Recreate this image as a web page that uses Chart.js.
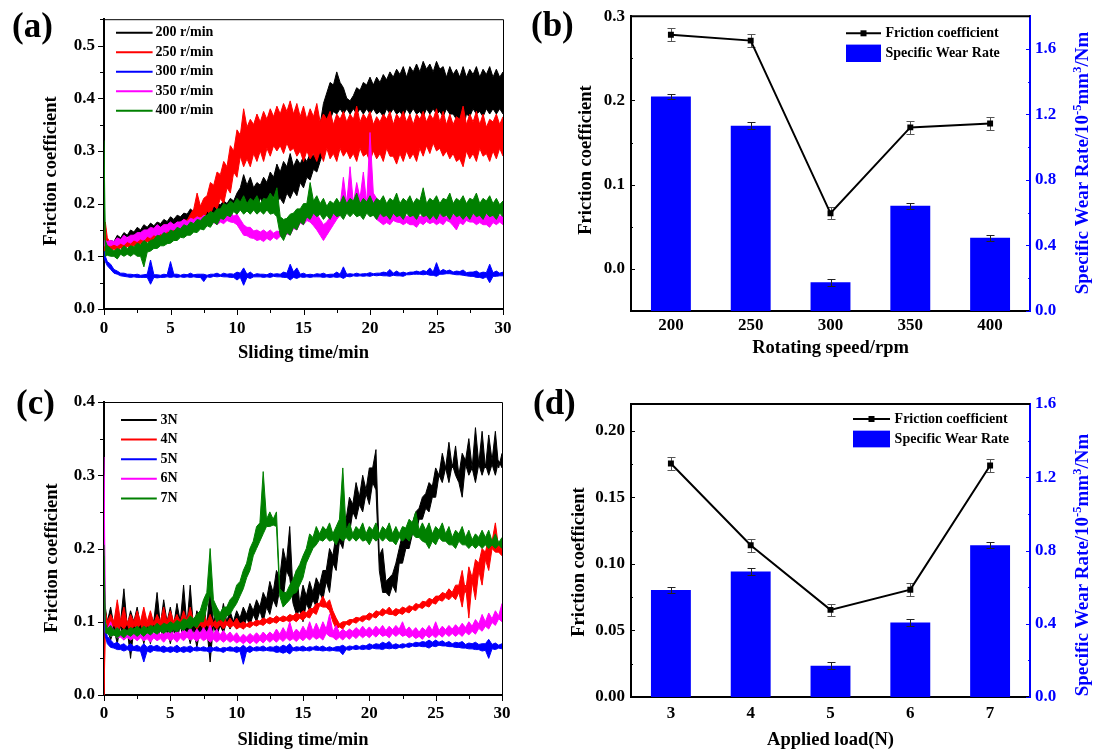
<!DOCTYPE html>
<html>
<head>
<meta charset="utf-8">
<script src="https://cdn.jsdelivr.net/npm/chart.js@4.4.1/dist/chart.umd.min.js"></script>
<style>
  body { margin: 0; background: #fff; }
  #page { position: relative; width: 1097px; height: 755px; overflow: hidden; background: #fff; }
  canvas { position: absolute; }
  .tag { position: absolute; font: bold 35px "Liberation Serif", "Times New Roman", serif; line-height: 35px; color: #000; }
</style>
</head>
<body>
<div id="page">
  <canvas id="chartA" width="548" height="377" style="left:0;top:0;width:548px;height:377px"></canvas>
  <canvas id="chartB" width="549" height="377" style="left:548px;top:0;width:549px;height:377px"></canvas>
  <canvas id="chartC" width="548" height="378" style="left:0;top:377px;width:548px;height:378px"></canvas>
  <canvas id="chartD" width="549" height="378" style="left:548px;top:377px;width:549px;height:378px"></canvas>
  <div class="tag" style="left:12px;top:8px">(a)</div>
  <div class="tag" style="left:531px;top:7px">(b)</div>
  <div class="tag" style="left:16px;top:385px">(c)</div>
  <div class="tag" style="left:533px;top:385px">(d)</div>
</div>
<script>
// tijdas: t = 0, 0.1, 0.25, 0.5 ... 30 min
const timesMin = [0, 0.1];
for (let k = 1; k <= 120; k++) timesMin.push(k / 4);

// (a) rotating speed: upper / lower edge of the noisy band
const speedNames = ["200 r/min", "250 r/min", "300 r/min", "350 r/min", "400 r/min"];
const a200Hi = [0.15, 0.135,
  0.122, 0.13, 0.128, 0.14, 0.135, 0.145, 0.14, 0.15, 0.146, 0.155, 0.15, 0.16, 0.155, 0.163, 0.158, 0.165, 0.162, 0.17, 0.166, 0.175,
  0.17, 0.178, 0.175, 0.182, 0.18, 0.19, 0.184, 0.19, 0.186, 0.195, 0.19, 0.2, 0.193, 0.2, 0.198, 0.205, 0.2, 0.21, 0.205, 0.22,
  0.23, 0.255, 0.235, 0.25, 0.23, 0.24, 0.235, 0.25, 0.24, 0.26, 0.25, 0.275, 0.26, 0.28, 0.27, 0.295, 0.27, 0.285, 0.275, 0.29,
  0.28, 0.295, 0.29, 0.31, 0.35, 0.39, 0.41, 0.43, 0.425, 0.45, 0.43, 0.42, 0.4, 0.395, 0.405, 0.42, 0.415, 0.43, 0.425, 0.44,
  0.425, 0.44, 0.43, 0.445, 0.435, 0.45, 0.44, 0.455, 0.445, 0.46, 0.44, 0.46, 0.45, 0.465, 0.45, 0.47, 0.455, 0.465, 0.45, 0.47,
  0.455, 0.46, 0.44, 0.46, 0.445, 0.455, 0.44, 0.46, 0.44, 0.455, 0.445, 0.46, 0.44, 0.455, 0.445, 0.46, 0.44, 0.455, 0.44, 0.45];
const a200Lo = [0.13, 0.125,
  0.123, 0.12, 0.128, 0.125, 0.133, 0.13, 0.138, 0.135, 0.142, 0.138, 0.144, 0.14, 0.149, 0.145, 0.152, 0.148, 0.156, 0.152, 0.159, 0.155,
  0.163, 0.16, 0.167, 0.163, 0.171, 0.168, 0.174, 0.17, 0.176, 0.172, 0.179, 0.175, 0.182, 0.178, 0.185, 0.18, 0.186, 0.18, 0.188, 0.18,
  0.2, 0.19, 0.198, 0.19, 0.205, 0.195, 0.21, 0.2, 0.21, 0.2, 0.215, 0.205, 0.21, 0.2, 0.22, 0.21, 0.225, 0.215, 0.24, 0.23,
  0.25, 0.245, 0.265, 0.26, 0.28, 0.3, 0.33, 0.36, 0.375, 0.37, 0.38, 0.37, 0.38, 0.37, 0.38, 0.37, 0.38, 0.37, 0.38, 0.37,
  0.38, 0.37, 0.375, 0.365, 0.38, 0.37, 0.38, 0.37, 0.375, 0.365, 0.38, 0.37, 0.38, 0.37, 0.375, 0.365, 0.38, 0.37, 0.38, 0.37,
  0.375, 0.365, 0.38, 0.37, 0.37, 0.36, 0.36, 0.34, 0.37, 0.365, 0.38, 0.37, 0.375, 0.365, 0.38, 0.37, 0.38, 0.37, 0.38, 0.37];
const a250Hi = [0.125, 0.165,
  0.135, 0.125, 0.122, 0.13, 0.126, 0.135, 0.128, 0.13, 0.132, 0.14, 0.135, 0.14, 0.142, 0.15, 0.145, 0.15, 0.152, 0.16, 0.155, 0.16,
  0.158, 0.165, 0.162, 0.17, 0.168, 0.18, 0.19, 0.22, 0.195, 0.21, 0.215, 0.24, 0.235, 0.26, 0.255, 0.28, 0.27, 0.31, 0.3, 0.34,
  0.33, 0.38, 0.345, 0.36, 0.35, 0.37, 0.355, 0.375, 0.36, 0.38, 0.365, 0.385, 0.37, 0.39, 0.375, 0.395, 0.37, 0.39, 0.365, 0.385,
  0.36, 0.38, 0.365, 0.39, 0.355, 0.37, 0.36, 0.375, 0.35, 0.37, 0.36, 0.375, 0.355, 0.37, 0.36, 0.385, 0.355, 0.37, 0.36, 0.375,
  0.35, 0.365, 0.355, 0.37, 0.36, 0.375, 0.35, 0.37, 0.36, 0.375, 0.355, 0.37, 0.35, 0.37, 0.36, 0.375, 0.355, 0.37, 0.36, 0.38,
  0.355, 0.375, 0.35, 0.37, 0.35, 0.365, 0.36, 0.385, 0.35, 0.37, 0.355, 0.375, 0.35, 0.37, 0.345, 0.36, 0.355, 0.37, 0.35, 0.365];
const a250Lo = [0.11, 0.11,
  0.113, 0.11, 0.114, 0.11, 0.116, 0.112, 0.119, 0.115, 0.121, 0.118, 0.124, 0.12, 0.128, 0.125, 0.131, 0.128, 0.134, 0.13, 0.138, 0.135,
  0.143, 0.14, 0.149, 0.145, 0.155, 0.15, 0.166, 0.16, 0.175, 0.17, 0.186, 0.18, 0.196, 0.19, 0.21, 0.2, 0.23, 0.22, 0.26, 0.25,
  0.29, 0.27, 0.285, 0.27, 0.295, 0.28, 0.3, 0.28, 0.305, 0.29, 0.31, 0.3, 0.31, 0.295, 0.315, 0.3, 0.305, 0.29, 0.3, 0.28,
  0.3, 0.285, 0.295, 0.28, 0.3, 0.28, 0.305, 0.285, 0.295, 0.28, 0.305, 0.29, 0.3, 0.285, 0.295, 0.28, 0.305, 0.29, 0.295, 0.28,
  0.3, 0.285, 0.295, 0.28, 0.305, 0.29, 0.29, 0.275, 0.295, 0.28, 0.3, 0.285, 0.295, 0.28, 0.305, 0.29, 0.31, 0.295, 0.315, 0.3,
  0.305, 0.29, 0.3, 0.285, 0.295, 0.28, 0.285, 0.27, 0.3, 0.285, 0.295, 0.28, 0.305, 0.29, 0.295, 0.28, 0.3, 0.285, 0.305, 0.29];
const a300Hi = [0.11, 0.1,
  0.09, 0.085, 0.075, 0.072, 0.068, 0.068, 0.066, 0.066, 0.065, 0.066, 0.064, 0.065, 0.066, 0.093, 0.065, 0.065, 0.064, 0.066, 0.065, 0.09,
  0.066, 0.066, 0.064, 0.066, 0.065, 0.068, 0.065, 0.066, 0.066, 0.066, 0.064, 0.066, 0.066, 0.068, 0.065, 0.068, 0.066, 0.067, 0.066, 0.07,
  0.068, 0.078, 0.066, 0.07, 0.065, 0.067, 0.066, 0.066, 0.065, 0.068, 0.066, 0.067, 0.066, 0.07, 0.068, 0.085, 0.07, 0.078, 0.066, 0.068,
  0.065, 0.066, 0.065, 0.067, 0.066, 0.068, 0.065, 0.066, 0.066, 0.07, 0.066, 0.08, 0.066, 0.067, 0.066, 0.068, 0.066, 0.067, 0.067, 0.069,
  0.067, 0.068, 0.068, 0.07, 0.069, 0.075, 0.068, 0.072, 0.068, 0.07, 0.068, 0.07, 0.07, 0.072, 0.07, 0.073, 0.071, 0.078, 0.07, 0.088,
  0.071, 0.075, 0.072, 0.074, 0.07, 0.072, 0.071, 0.074, 0.069, 0.07, 0.07, 0.072, 0.068, 0.07, 0.069, 0.085, 0.069, 0.072, 0.068, 0.07];
const a300Lo = [0.1, 0.09,
  0.082, 0.075, 0.068, 0.066, 0.063, 0.062, 0.061, 0.06, 0.061, 0.06, 0.06, 0.06, 0.06, 0.047, 0.06, 0.059, 0.06, 0.06, 0.061, 0.06,
  0.061, 0.06, 0.061, 0.06, 0.061, 0.06, 0.061, 0.06, 0.06, 0.052, 0.061, 0.06, 0.062, 0.061, 0.062, 0.061, 0.061, 0.06, 0.06, 0.055,
  0.06, 0.045, 0.06, 0.058, 0.061, 0.061, 0.061, 0.06, 0.061, 0.06, 0.062, 0.061, 0.061, 0.06, 0.06, 0.055, 0.06, 0.058, 0.061, 0.06,
  0.061, 0.06, 0.061, 0.061, 0.061, 0.06, 0.061, 0.06, 0.061, 0.06, 0.061, 0.058, 0.062, 0.061, 0.063, 0.062, 0.063, 0.062, 0.063, 0.062,
  0.064, 0.063, 0.064, 0.063, 0.063, 0.062, 0.064, 0.063, 0.063, 0.062, 0.065, 0.065, 0.066, 0.066, 0.066, 0.065, 0.066, 0.064, 0.064, 0.062,
  0.066, 0.066, 0.067, 0.067, 0.066, 0.065, 0.065, 0.064, 0.063, 0.062, 0.062, 0.06, 0.06, 0.058, 0.061, 0.05, 0.062, 0.062, 0.063, 0.063];
const a350Hi = [0.13, 0.13,
  0.128, 0.13, 0.128, 0.135, 0.132, 0.14, 0.135, 0.14, 0.14, 0.145, 0.145, 0.15, 0.15, 0.155, 0.153, 0.16, 0.155, 0.16, 0.16, 0.165,
  0.16, 0.165, 0.165, 0.17, 0.166, 0.172, 0.17, 0.175, 0.172, 0.178, 0.175, 0.18, 0.174, 0.18, 0.176, 0.18, 0.178, 0.185, 0.176, 0.18,
  0.17, 0.16, 0.155, 0.155, 0.148, 0.15, 0.146, 0.15, 0.145, 0.15, 0.144, 0.148, 0.146, 0.15, 0.155, 0.16, 0.165, 0.17, 0.18, 0.19,
  0.182, 0.19, 0.185, 0.18, 0.17, 0.16, 0.165, 0.175, 0.18, 0.19, 0.195, 0.25, 0.2, 0.27, 0.2, 0.24, 0.21, 0.26, 0.2, 0.335,
  0.22, 0.21, 0.185, 0.19, 0.178, 0.185, 0.182, 0.19, 0.178, 0.185, 0.175, 0.18, 0.178, 0.185, 0.174, 0.18, 0.178, 0.185, 0.175, 0.18,
  0.178, 0.185, 0.174, 0.18, 0.178, 0.185, 0.175, 0.18, 0.18, 0.19, 0.178, 0.185, 0.18, 0.2, 0.178, 0.185, 0.18, 0.19, 0.175, 0.18];
const a350Lo = [0.12, 0.12,
  0.122, 0.12, 0.123, 0.12, 0.125, 0.122, 0.128, 0.125, 0.131, 0.128, 0.133, 0.13, 0.138, 0.135, 0.141, 0.138, 0.143, 0.14, 0.148, 0.145,
  0.151, 0.148, 0.153, 0.15, 0.156, 0.152, 0.158, 0.155, 0.161, 0.158, 0.163, 0.16, 0.164, 0.16, 0.165, 0.162, 0.168, 0.165, 0.164, 0.16,
  0.15, 0.14, 0.139, 0.135, 0.134, 0.13, 0.132, 0.128, 0.134, 0.13, 0.136, 0.132, 0.138, 0.135, 0.143, 0.14, 0.153, 0.15, 0.163, 0.16,
  0.168, 0.165, 0.158, 0.15, 0.14, 0.13, 0.14, 0.15, 0.16, 0.17, 0.178, 0.18, 0.184, 0.18, 0.186, 0.19, 0.194, 0.19, 0.195, 0.19,
  0.18, 0.17, 0.165, 0.16, 0.164, 0.16, 0.168, 0.165, 0.164, 0.16, 0.164, 0.16, 0.16, 0.155, 0.164, 0.16, 0.166, 0.162, 0.165, 0.16,
  0.164, 0.16, 0.168, 0.165, 0.158, 0.15, 0.164, 0.16, 0.168, 0.165, 0.165, 0.16, 0.164, 0.16, 0.16, 0.155, 0.164, 0.16, 0.165, 0.16];
const a400Hi = [0.32, 0.13,
  0.12, 0.115, 0.11, 0.115, 0.112, 0.12, 0.115, 0.12, 0.118, 0.125, 0.122, 0.13, 0.125, 0.13, 0.132, 0.14, 0.138, 0.145, 0.142, 0.15,
  0.147, 0.155, 0.152, 0.16, 0.157, 0.165, 0.162, 0.17, 0.168, 0.175, 0.178, 0.185, 0.182, 0.19, 0.19, 0.2, 0.197, 0.205, 0.2, 0.21,
  0.203, 0.215, 0.2, 0.21, 0.205, 0.215, 0.2, 0.21, 0.208, 0.22, 0.21, 0.23, 0.175, 0.17, 0.172, 0.18, 0.182, 0.19, 0.19, 0.2,
  0.2, 0.24, 0.205, 0.215, 0.2, 0.21, 0.195, 0.205, 0.2, 0.21, 0.2, 0.215, 0.2, 0.21, 0.205, 0.22, 0.2, 0.21, 0.203, 0.215,
  0.2, 0.21, 0.205, 0.215, 0.2, 0.21, 0.205, 0.22, 0.2, 0.21, 0.204, 0.215, 0.2, 0.21, 0.205, 0.23, 0.2, 0.21, 0.205, 0.215,
  0.2, 0.21, 0.207, 0.22, 0.2, 0.21, 0.205, 0.215, 0.2, 0.21, 0.207, 0.22, 0.2, 0.21, 0.205, 0.215, 0.2, 0.21, 0.198, 0.205];
const a400Lo = [0.25, 0.1,
  0.102, 0.1, 0.1, 0.095, 0.104, 0.1, 0.104, 0.1, 0.105, 0.1, 0.1, 0.08, 0.108, 0.11, 0.115, 0.115, 0.12, 0.12, 0.124, 0.125,
  0.13, 0.13, 0.136, 0.135, 0.14, 0.14, 0.146, 0.145, 0.152, 0.15, 0.158, 0.155, 0.165, 0.16, 0.172, 0.17, 0.178, 0.175, 0.185, 0.18,
  0.188, 0.18, 0.186, 0.18, 0.188, 0.18, 0.186, 0.18, 0.188, 0.18, 0.182, 0.175, 0.14, 0.13, 0.145, 0.14, 0.155, 0.15, 0.165, 0.16,
  0.175, 0.17, 0.182, 0.175, 0.18, 0.17, 0.178, 0.17, 0.182, 0.175, 0.178, 0.17, 0.182, 0.175, 0.182, 0.175, 0.178, 0.17, 0.182, 0.175,
  0.178, 0.17, 0.182, 0.175, 0.178, 0.17, 0.182, 0.175, 0.178, 0.17, 0.182, 0.175, 0.178, 0.17, 0.182, 0.175, 0.178, 0.17, 0.178, 0.17,
  0.182, 0.175, 0.178, 0.17, 0.182, 0.175, 0.178, 0.17, 0.178, 0.17, 0.182, 0.175, 0.178, 0.17, 0.182, 0.175, 0.178, 0.17, 0.182, 0.175];

// (c) applied load
const loadNames = ["3N", "4N", "5N", "6N", "7N"];
const c3Hi = [0.13, 0.12,
  0.1, 0.12, 0.095, 0.115, 0.1, 0.145, 0.095, 0.115, 0.1, 0.12, 0.095, 0.115, 0.09, 0.11, 0.1, 0.14, 0.095, 0.13, 0.1, 0.12,
  0.095, 0.125, 0.1, 0.15, 0.095, 0.15, 0.09, 0.115, 0.1, 0.125, 0.095, 0.145, 0.1, 0.115, 0.1, 0.125, 0.1, 0.115, 0.1, 0.115,
  0.105, 0.12, 0.11, 0.125, 0.115, 0.13, 0.12, 0.14, 0.13, 0.155, 0.14, 0.17, 0.16, 0.2, 0.18, 0.23, 0.14, 0.17, 0.125, 0.15,
  0.135, 0.155, 0.14, 0.16, 0.15, 0.17, 0.17, 0.2, 0.19, 0.22, 0.22, 0.25, 0.24, 0.27, 0.26, 0.29, 0.27, 0.3, 0.28, 0.31,
  0.31, 0.335, 0.19, 0.2, 0.155, 0.16, 0.165, 0.18, 0.2, 0.22, 0.215, 0.23, 0.235, 0.25, 0.255, 0.27, 0.275, 0.29, 0.285, 0.31,
  0.3, 0.33, 0.31, 0.345, 0.31, 0.34, 0.3, 0.33, 0.32, 0.35, 0.31, 0.365, 0.315, 0.36, 0.31, 0.355, 0.32, 0.36, 0.31, 0.33];
const c3Lo = [0.09, 0.09,
  0.09, 0.075, 0.09, 0.07, 0.095, 0.075, 0.09, 0.05, 0.09, 0.075, 0.09, 0.07, 0.09, 0.07, 0.095, 0.075, 0.09, 0.075, 0.09, 0.07,
  0.09, 0.075, 0.095, 0.075, 0.09, 0.07, 0.09, 0.065, 0.09, 0.075, 0.09, 0.045, 0.095, 0.08, 0.095, 0.085, 0.1, 0.09, 0.1, 0.09,
  0.1, 0.09, 0.105, 0.095, 0.11, 0.1, 0.115, 0.1, 0.12, 0.11, 0.13, 0.12, 0.145, 0.13, 0.17, 0.16, 0.125, 0.11, 0.115, 0.1,
  0.125, 0.115, 0.13, 0.12, 0.14, 0.13, 0.155, 0.14, 0.18, 0.17, 0.21, 0.2, 0.23, 0.22, 0.25, 0.24, 0.26, 0.25, 0.275, 0.26,
  0.29, 0.28, 0.17, 0.14, 0.14, 0.135, 0.15, 0.14, 0.18, 0.18, 0.2, 0.2, 0.22, 0.22, 0.24, 0.24, 0.255, 0.25, 0.27, 0.27,
  0.3, 0.29, 0.31, 0.29, 0.315, 0.3, 0.29, 0.27, 0.315, 0.3, 0.31, 0.29, 0.315, 0.3, 0.315, 0.3, 0.315, 0.3, 0.32, 0.31];
const c4Hi = [0.0, 0.115,
  0.1, 0.11, 0.1, 0.13, 0.1, 0.12, 0.098, 0.11, 0.1, 0.115, 0.1, 0.12, 0.1, 0.115, 0.098, 0.11, 0.1, 0.12, 0.1, 0.115,
  0.1, 0.11, 0.1, 0.115, 0.102, 0.12, 0.1, 0.11, 0.1, 0.115, 0.098, 0.11, 0.098, 0.105, 0.1, 0.11, 0.098, 0.105, 0.098, 0.105,
  0.097, 0.1, 0.097, 0.1, 0.099, 0.102, 0.101, 0.105, 0.103, 0.106, 0.104, 0.108, 0.105, 0.108, 0.106, 0.11, 0.108, 0.112, 0.11, 0.115,
  0.112, 0.118, 0.118, 0.125, 0.125, 0.135, 0.125, 0.13, 0.115, 0.105, 0.097, 0.1, 0.1, 0.103, 0.103, 0.106, 0.105, 0.108, 0.108, 0.112,
  0.11, 0.115, 0.113, 0.118, 0.115, 0.12, 0.114, 0.118, 0.116, 0.12, 0.118, 0.122, 0.12, 0.125, 0.123, 0.128, 0.127, 0.132, 0.13, 0.135,
  0.135, 0.14, 0.138, 0.145, 0.14, 0.15, 0.15, 0.17, 0.14, 0.175, 0.16, 0.185, 0.18, 0.2, 0.195, 0.215, 0.21, 0.235, 0.2, 0.21];
const c4Lo = [0.0, 0.09,
  0.095, 0.085, 0.097, 0.085, 0.095, 0.09, 0.097, 0.085, 0.095, 0.09, 0.097, 0.085, 0.095, 0.09, 0.097, 0.085, 0.096, 0.09, 0.097, 0.085,
  0.096, 0.09, 0.097, 0.09, 0.096, 0.09, 0.097, 0.09, 0.096, 0.09, 0.096, 0.09, 0.095, 0.09, 0.096, 0.09, 0.096, 0.092, 0.095, 0.09,
  0.093, 0.09, 0.094, 0.092, 0.096, 0.094, 0.097, 0.095, 0.099, 0.097, 0.1, 0.098, 0.102, 0.1, 0.102, 0.1, 0.103, 0.1, 0.105, 0.102,
  0.107, 0.105, 0.113, 0.11, 0.122, 0.12, 0.12, 0.115, 0.1, 0.09, 0.093, 0.09, 0.097, 0.095, 0.1, 0.098, 0.102, 0.1, 0.104, 0.102,
  0.107, 0.105, 0.11, 0.108, 0.112, 0.11, 0.11, 0.108, 0.112, 0.11, 0.114, 0.112, 0.117, 0.115, 0.12, 0.118, 0.122, 0.12, 0.126, 0.124,
  0.13, 0.128, 0.133, 0.13, 0.135, 0.13, 0.14, 0.12, 0.15, 0.105, 0.155, 0.13, 0.17, 0.15, 0.185, 0.17, 0.2, 0.195, 0.195, 0.19];
const c5Hi = [0.11, 0.09,
  0.08, 0.075, 0.07, 0.072, 0.068, 0.07, 0.066, 0.07, 0.066, 0.068, 0.065, 0.07, 0.065, 0.068, 0.066, 0.068, 0.065, 0.067, 0.064, 0.066,
  0.065, 0.068, 0.064, 0.066, 0.065, 0.067, 0.064, 0.066, 0.064, 0.066, 0.064, 0.066, 0.064, 0.066, 0.063, 0.065, 0.064, 0.066, 0.064, 0.066,
  0.064, 0.068, 0.064, 0.067, 0.064, 0.066, 0.065, 0.067, 0.064, 0.066, 0.065, 0.067, 0.065, 0.068, 0.066, 0.07, 0.064, 0.066, 0.065, 0.067,
  0.064, 0.066, 0.065, 0.067, 0.065, 0.067, 0.064, 0.066, 0.064, 0.066, 0.066, 0.068, 0.065, 0.067, 0.066, 0.068, 0.066, 0.068, 0.067, 0.07,
  0.068, 0.07, 0.069, 0.072, 0.07, 0.073, 0.068, 0.07, 0.068, 0.07, 0.069, 0.071, 0.07, 0.072, 0.071, 0.073, 0.072, 0.075, 0.072, 0.075,
  0.072, 0.074, 0.071, 0.073, 0.07, 0.072, 0.071, 0.073, 0.069, 0.071, 0.07, 0.072, 0.069, 0.07, 0.07, 0.076, 0.069, 0.071, 0.068, 0.07];
const c5Lo = [0.1, 0.08,
  0.07, 0.065, 0.064, 0.062, 0.062, 0.06, 0.062, 0.06, 0.061, 0.06, 0.06, 0.045, 0.06, 0.058, 0.061, 0.06, 0.06, 0.058, 0.06, 0.058,
  0.06, 0.058, 0.06, 0.058, 0.06, 0.058, 0.061, 0.06, 0.061, 0.06, 0.06, 0.058, 0.061, 0.06, 0.06, 0.058, 0.061, 0.06, 0.06, 0.058,
  0.06, 0.042, 0.06, 0.058, 0.061, 0.06, 0.061, 0.06, 0.061, 0.06, 0.06, 0.058, 0.059, 0.057, 0.059, 0.056, 0.061, 0.06, 0.061, 0.06,
  0.061, 0.06, 0.062, 0.061, 0.061, 0.06, 0.061, 0.06, 0.061, 0.06, 0.06, 0.055, 0.062, 0.061, 0.063, 0.062, 0.063, 0.062, 0.063, 0.062,
  0.064, 0.063, 0.063, 0.062, 0.064, 0.063, 0.064, 0.063, 0.065, 0.064, 0.066, 0.065, 0.067, 0.066, 0.067, 0.066, 0.066, 0.064, 0.067, 0.066,
  0.068, 0.067, 0.067, 0.066, 0.066, 0.065, 0.065, 0.064, 0.064, 0.063, 0.063, 0.062, 0.062, 0.06, 0.061, 0.05, 0.063, 0.062, 0.064, 0.063];
const c6Hi = [0.325, 0.1,
  0.09, 0.1, 0.086, 0.092, 0.084, 0.09, 0.083, 0.09, 0.083, 0.088, 0.082, 0.09, 0.082, 0.088, 0.083, 0.09, 0.082, 0.088, 0.083, 0.09,
  0.082, 0.088, 0.083, 0.09, 0.084, 0.092, 0.083, 0.09, 0.084, 0.092, 0.085, 0.095, 0.083, 0.09, 0.082, 0.088, 0.081, 0.086, 0.08, 0.085,
  0.078, 0.083, 0.079, 0.084, 0.08, 0.085, 0.08, 0.086, 0.081, 0.086, 0.082, 0.09, 0.083, 0.092, 0.084, 0.1, 0.084, 0.09, 0.085, 0.094,
  0.086, 0.1, 0.087, 0.098, 0.088, 0.1, 0.09, 0.11, 0.086, 0.095, 0.085, 0.09, 0.086, 0.09, 0.087, 0.092, 0.088, 0.094, 0.088, 0.093,
  0.088, 0.094, 0.089, 0.095, 0.088, 0.094, 0.089, 0.095, 0.09, 0.1, 0.088, 0.093, 0.087, 0.092, 0.086, 0.092, 0.088, 0.095, 0.088, 0.1,
  0.088, 0.094, 0.089, 0.095, 0.09, 0.096, 0.091, 0.098, 0.092, 0.1, 0.094, 0.103, 0.097, 0.11, 0.1, 0.112, 0.104, 0.115, 0.108, 0.125];
const c6Lo = [0.3, 0.085,
  0.086, 0.08, 0.082, 0.078, 0.079, 0.075, 0.079, 0.075, 0.078, 0.074, 0.078, 0.074, 0.077, 0.072, 0.078, 0.074, 0.077, 0.072, 0.078, 0.074,
  0.077, 0.072, 0.078, 0.074, 0.079, 0.075, 0.077, 0.073, 0.078, 0.074, 0.077, 0.072, 0.076, 0.072, 0.076, 0.072, 0.076, 0.072, 0.075, 0.071,
  0.074, 0.07, 0.074, 0.07, 0.074, 0.07, 0.075, 0.071, 0.076, 0.072, 0.076, 0.072, 0.077, 0.073, 0.078, 0.074, 0.077, 0.073, 0.078, 0.074,
  0.079, 0.075, 0.08, 0.076, 0.079, 0.075, 0.084, 0.08, 0.079, 0.075, 0.079, 0.075, 0.08, 0.076, 0.081, 0.077, 0.082, 0.078, 0.082, 0.078,
  0.083, 0.079, 0.084, 0.08, 0.082, 0.078, 0.084, 0.08, 0.084, 0.08, 0.082, 0.078, 0.081, 0.077, 0.08, 0.076, 0.082, 0.078, 0.082, 0.078,
  0.083, 0.079, 0.084, 0.08, 0.084, 0.08, 0.084, 0.08, 0.086, 0.082, 0.087, 0.083, 0.091, 0.087, 0.094, 0.09, 0.099, 0.095, 0.104, 0.1];
const c7Hi = [0.205, 0.1,
  0.09, 0.095, 0.088, 0.092, 0.087, 0.09, 0.088, 0.092, 0.09, 0.094, 0.09, 0.094, 0.091, 0.095, 0.093, 0.098, 0.094, 0.098, 0.096, 0.1,
  0.097, 0.102, 0.099, 0.104, 0.102, 0.108, 0.104, 0.11, 0.115, 0.13, 0.14, 0.2, 0.13, 0.12, 0.112, 0.12, 0.12, 0.13, 0.135, 0.15,
  0.155, 0.17, 0.18, 0.2, 0.21, 0.23, 0.235, 0.305, 0.24, 0.25, 0.24, 0.25, 0.145, 0.14, 0.14, 0.15, 0.158, 0.17, 0.178, 0.19,
  0.2, 0.22, 0.215, 0.23, 0.22, 0.23, 0.225, 0.235, 0.22, 0.23, 0.24, 0.31, 0.225, 0.235, 0.22, 0.23, 0.225, 0.235, 0.22, 0.23,
  0.225, 0.235, 0.22, 0.23, 0.225, 0.235, 0.22, 0.23, 0.22, 0.23, 0.228, 0.24, 0.235, 0.25, 0.225, 0.235, 0.225, 0.235, 0.22, 0.23,
  0.225, 0.235, 0.22, 0.23, 0.215, 0.225, 0.22, 0.23, 0.215, 0.225, 0.212, 0.22, 0.215, 0.225, 0.215, 0.225, 0.21, 0.22, 0.208, 0.215];
const c7Lo = [0.19, 0.085,
  0.084, 0.08, 0.082, 0.078, 0.082, 0.078, 0.083, 0.08, 0.084, 0.08, 0.084, 0.08, 0.085, 0.082, 0.086, 0.083, 0.087, 0.084, 0.088, 0.085,
  0.089, 0.086, 0.091, 0.088, 0.093, 0.09, 0.095, 0.092, 0.1, 0.1, 0.12, 0.14, 0.11, 0.1, 0.104, 0.1, 0.108, 0.11, 0.118, 0.125,
  0.135, 0.145, 0.16, 0.17, 0.19, 0.2, 0.21, 0.22, 0.23, 0.23, 0.232, 0.23, 0.135, 0.12, 0.125, 0.13, 0.138, 0.14, 0.15, 0.16,
  0.18, 0.19, 0.2, 0.205, 0.212, 0.21, 0.215, 0.21, 0.212, 0.205, 0.215, 0.21, 0.215, 0.21, 0.215, 0.21, 0.215, 0.21, 0.212, 0.205,
  0.215, 0.21, 0.215, 0.21, 0.215, 0.21, 0.21, 0.205, 0.215, 0.21, 0.215, 0.21, 0.22, 0.215, 0.215, 0.21, 0.208, 0.2, 0.21, 0.205,
  0.215, 0.21, 0.21, 0.205, 0.205, 0.2, 0.21, 0.205, 0.205, 0.2, 0.205, 0.2, 0.205, 0.2, 0.205, 0.2, 0.205, 0.2, 0.205, 0.2];

const lineColors = ["#000000", "#ff0000", "#0000ff", "#ff00ff", "#008000"];

// (b) en (d) gemiddelden met foutbalken
const speedLabels = ["200", "250", "300", "350", "400"];
const frictionB = [0.278, 0.271, 0.066, 0.168, 0.1725];
const frictionErrB = [0.0078, 0.008, 0.007, 0.0077, 0.0075];
const wearB = [1.309, 1.131, 0.176, 0.642, 0.447];
const wearErrB = [0.015, 0.02, 0.021, 0.02, 0.02];

const loadLabels = ["3", "4", "5", "6", "7"];
const frictionD = [0.1753, 0.1139, 0.0654, 0.0806, 0.1738];
const frictionErrD = [0.005, 0.005, 0.0048, 0.0048, 0.005];
const wearD = [0.584, 0.685, 0.171, 0.407, 0.829];
const wearErrD = [0.018, 0.02, 0.02, 0.018, 0.018];

const SERIF = '"Liberation Serif", "Times New Roman", serif';
const BLUE = "#0000ff";
const wearTitle = [{ t: "Specific Wear Rate/10" }, { t: "-5", sup: true }, { t: "mm" }, { t: "3", sup: true }, { t: "/Nm" }];

Chart.defaults.font.family = SERIF;
Chart.defaults.font.weight = "bold";
Chart.defaults.color = "#000";
Chart.defaults.animation = false;

function isStep(v, step) {
    return Math.abs(v / step - Math.round(v / step)) < 1e-6;
}

function tickText(v, step, digits) {
    if (!isStep(v, step)) return "";
    if (Math.abs(v) < 1e-9) v = 0;
    return v.toFixed(digits);
}

// tick marks (major/minor) + frame lines
const axisMarks = {
    id: "axisMarks",
    afterDraw(chart, args, opts) {
        const ctx = chart.ctx, a = chart.chartArea;
        ctx.save();
        ctx.lineWidth = 1;
        (opts.marks || []).forEach(m => {
            const s = chart.scales[m.scale];
            ctx.strokeStyle = m.color || "#000";
            s.ticks.forEach(t => {
                let len = isStep(t.value, m.major) ? 5 : 3;
                if (m.inward) len = -len;
                const p = Math.round(s.getPixelForValue(t.value)) + 0.5;
                ctx.beginPath();
                if (s.position === "bottom") { ctx.moveTo(p, a.bottom + 1); ctx.lineTo(p, a.bottom + 1 + len); }
                else if (s.position === "left") { ctx.moveTo(a.left - 1, p); ctx.lineTo(a.left - 1 - len, p); }
                else { ctx.moveTo(a.right + 1, p); ctx.lineTo(a.right + 1 + len, p); }
                ctx.stroke();
            });
        });
        if (opts.frame) {
            const f = opts.frame, off = f.width % 2 ? 0.5 : 0;
            ctx.strokeStyle = f.color;
            ctx.lineWidth = f.width;
            ctx.beginPath();
            ctx.moveTo(a.left, a.top + off);
            ctx.lineTo(a.right + off, a.top + off);
            if (f.right) ctx.lineTo(a.right + off, a.bottom);
            ctx.stroke();
        }
        ctx.restore();
    }
};

// legend inside the plot area
const innerLegend = {
    id: "innerLegend",
    afterDraw(chart, args, o) {
        if (o.x === undefined) return;
        const ctx = chart.ctx;
        ctx.save();
        ctx.font = "bold " + o.size + "px " + SERIF;
        ctx.textBaseline = "middle";
        let y = o.y;
        chart.data.datasets.forEach(ds => {
            if (!ds.label) return;
            const kind = ds.type || chart.config.type;
            if (kind === "bar") {
                ctx.fillStyle = ds.backgroundColor;
                ctx.fillRect(o.x, y - o.box / 2, o.len, o.box);
            } else {
                ctx.strokeStyle = ds.borderColor;
                ctx.lineWidth = 2;
                ctx.beginPath();
                ctx.moveTo(o.x, y);
                ctx.lineTo(o.x + o.len, y);
                ctx.stroke();
                if (ds.pointRadius) {
                    ctx.fillStyle = ds.pointBackgroundColor;
                    ctx.fillRect(o.x + o.len / 2 - 3, y - 3, 6, 6);
                }
            }
            ctx.fillStyle = "#000";
            ctx.fillText(ds.label, o.x + o.len + o.gap, y);
            y += o.row;
        });
        ctx.restore();
    }
};

// rotated axis titles, with superscripts
const sideTitles = {
    id: "sideTitles",
    afterDraw(chart, args, opts) {
        const ctx = chart.ctx;
        (opts.items || []).forEach(it => {
            const big = "bold " + it.size + "px " + SERIF;
            const small = "bold " + (it.size * 0.66) + "px " + SERIF;
            ctx.save();
            ctx.translate(it.x, it.cy);
            ctx.rotate(-Math.PI / 2);
            ctx.fillStyle = it.color || "#000";
            ctx.textBaseline = "alphabetic";
            let total = 0;
            it.parts.forEach(p => { ctx.font = p.sup ? small : big; total += ctx.measureText(p.t).width; });
            let x = -total / 2;
            const base = it.size * 0.33;
            it.parts.forEach(p => {
                ctx.font = p.sup ? small : big;
                ctx.fillText(p.t, x, p.sup ? base - it.size * 0.4 : base);
                x += ctx.measureText(p.t).width;
            });
            ctx.restore();
        });
    }
};

// foutbalken
function drawErrors(chart, index) {
    const ds = chart.data.datasets[index];
    if (!ds.errors) return;
    const meta = chart.getDatasetMeta(index);
    const ys = chart.scales[meta.yAxisID];
    const ctx = chart.ctx;
    ctx.save();
    ctx.strokeStyle = ds.errorColor || "#333";
    ctx.lineWidth = 1;
    meta.data.forEach((el, j) => {
        const x = Math.round(el.x) + 0.5;
        const top = Math.round(ys.getPixelForValue(ds.data[j] + ds.errors[j])) + 0.5;
        const bot = Math.round(ys.getPixelForValue(ds.data[j] - ds.errors[j])) + 0.5;
        ctx.beginPath();
        ctx.moveTo(x, top); ctx.lineTo(x, bot);
        ctx.moveTo(x - 4, top); ctx.lineTo(x + 4, top);
        ctx.moveTo(x - 4, bot); ctx.lineTo(x + 4, bot);
        ctx.stroke();
    });
    ctx.restore();
}

const errorBars = {
    id: "errorBars",
    beforeDatasetDraw(chart, args) {
        if (chart.data.datasets[args.index].type === "line") drawErrors(chart, args.index);
    },
    afterDatasetDraw(chart, args) {
        if (chart.data.datasets[args.index].type === "bar") drawErrors(chart, args.index);
    }
};

Chart.register(axisMarks, innerLegend, sideTitles, errorBars);

function toPoints(values) {
    return values.map((v, k) => ({ x: timesMin[k], y: v }));
}

function makeTimeChart(id, names, his, los, c) {
    const datasets = [];
    names.forEach((name, i) => {
        const order = names.length - i; // laatste serie bovenop
        datasets.push({ label: name, data: toPoints(his[i]), borderColor: lineColors[i], borderWidth: 1, pointRadius: 0, fill: false, order: order });
        datasets.push({ label: "", data: toPoints(los[i]), borderColor: lineColors[i], backgroundColor: lineColors[i], borderWidth: 1, pointRadius: 0, fill: "-1", order: order });
    });

    return new Chart(document.getElementById(id), {
        type: "line",
        data: { datasets: datasets },
        options: {
            responsive: false,
            events: [],
            layout: { padding: { top: c.top, right: c.right, left: 0, bottom: 0 } },
            scales: {
                x: {
                    type: "linear", min: 0, max: 30, z: 1,
                    ticks: { stepSize: 2.5, autoSkip: false, maxRotation: 0, padding: c.xPad, font: { size: 17 },
                             callback: v => isStep(v, 5) ? String(v) : "" },
                    grid: { display: false, drawTicks: false },
                    border: { color: "#000", width: 2 },
                    title: { display: true, text: "Sliding time/min", font: { size: 18.5 }, padding: { top: 0, bottom: c.xTitle } },
                    afterFit: s => { s.height = c.xH; }
                },
                y: {
                    type: "linear", min: 0, max: c.yMax, z: 1,
                    ticks: { stepSize: 0.05, autoSkip: false, padding: 9, font: { size: 17 },
                             callback: v => tickText(v, 0.1, 1) },
                    grid: { display: false, drawTicks: false },
                    border: { color: "#000", width: 2 },
                    afterFit: s => { s.width = 104; }
                }
            },
            plugins: {
                legend: { display: false },
                tooltip: { enabled: false },
                axisMarks: { marks: [{ scale: "x", major: 5 }, { scale: "y", major: 0.1 }], frame: { color: "#000", width: 1, right: true } },
                innerLegend: c.legend,
                sideTitles: { items: [{ x: c.yTitleX, cy: c.yTitleY, size: 18.5, parts: [{ t: "Friction coefficient" }] }] }
            }
        }
    });
}

function makeWearChart(id, labels, friction, frictionErr, wear, wearErr, c) {
    return new Chart(document.getElementById(id), {
        type: "bar",
        data: {
            labels: labels,
            datasets: [
                { type: "line", label: "Friction coefficient", data: friction, errors: frictionErr, errorColor: "#555",
                  yAxisID: "y", borderColor: "#000", borderWidth: 2, pointStyle: "rect", pointRadius: 4.2,
                  pointBackgroundColor: "#000", pointBorderWidth: 0, order: 0 },
                { type: "bar", label: "Specific Wear Rate", data: wear, errors: wearErr, errorColor: "#222",
                  yAxisID: "y1", backgroundColor: BLUE, barPercentage: 0.5, categoryPercentage: 1, order: 1 }
            ]
        },
        options: {
            responsive: false,
            events: [],
            layout: { padding: { top: c.top, right: 0, left: 0, bottom: 0 } },
            scales: {
                x: {
                    type: "category", offset: true, z: 1,
                    ticks: { padding: c.xPad, font: { size: 17 } },
                    grid: { display: false, drawTicks: false },
                    border: { color: "#000", width: 2 },
                    title: { display: true, text: c.xTitle, font: { size: 18.5 }, padding: { top: 0, bottom: c.xTitlePad } },
                    afterFit: s => { s.height = c.xH; }
                },
                y: {
                    type: "linear", position: "left", min: c.yMin, max: c.yMax, z: 1,
                    ticks: { stepSize: c.yStep, autoSkip: false, padding: 6, font: { size: 17 },
                             callback: v => tickText(v, c.yMajor, c.yDigits) },
                    grid: { display: false, drawTicks: false },
                    border: { color: "#000", width: 2 },
                    afterFit: s => { s.width = 83; }
                },
                y1: {
                    type: "linear", position: "right", min: 0, max: c.y1Max, z: 1,
                    ticks: { stepSize: 0.2, autoSkip: false, padding: 5, color: BLUE, font: { size: 17 },
                             callback: v => tickText(v, 0.4, 1) },
                    grid: { display: false, drawTicks: false },
                    border: { color: BLUE, width: 2 },
                    afterFit: s => { s.width = 67; }
                }
            },
            plugins: {
                legend: { display: false },
                tooltip: { enabled: false },
                axisMarks: {
                    marks: [{ scale: "y", major: c.yMajor, inward: true }, { scale: "y1", major: 0.4, inward: true, color: BLUE }],
                    frame: { color: "#000", width: 2, right: false }
                },
                innerLegend: c.legend,
                sideTitles: { items: [
                    { x: c.yTitleX, cy: c.yTitleY, size: 18.5, parts: [{ t: "Friction coefficient" }] },
                    { x: 534, cy: c.y1TitleY, size: 19, color: BLUE, parts: wearTitle }
                ] }
            }
        }
    });
}

makeTimeChart("chartA", speedNames,
    [a200Hi, a250Hi, a300Hi, a350Hi, a400Hi],
    [a200Lo, a250Lo, a300Lo, a350Lo, a400Lo],
    { top: 15, right: 45, yMax: 0.55, xH: 68, xPad: 9, xTitle: 13, yTitleX: 50, yTitleY: 171,
      legend: { x: 116, y: 32.7, len: 36.6, gap: 2.8, row: 19.5, size: 14 } });

makeWearChart("chartB", speedLabels, frictionB, frictionErrB, wearB, wearErrB,
    { top: 16, xH: 66, xPad: 4, xTitle: "Rotating speed/rpm", xTitlePad: 18,
      yMin: -0.05, yMax: 0.3, yStep: 0.05, yMajor: 0.1, yDigits: 1, y1Max: 1.8,
      yTitleX: 37, yTitleY: 160, y1TitleY: 163,
      legend: { x: 298, y: 33.3, len: 35, gap: 4.5, row: 20, size: 14, box: 17.4 } });

makeTimeChart("chartC", loadNames,
    [c3Hi, c4Hi, c5Hi, c6Hi, c7Hi],
    [c3Lo, c4Lo, c5Lo, c6Lo, c7Lo],
    { top: 25, right: 46, yMax: 0.4, xH: 60, xPad: 8, xTitle: 4, yTitleX: 51, yTitleY: 181,
      legend: { x: 121, y: 43, len: 35.8, gap: 3.8, row: 19.6, size: 14 } });

makeWearChart("chartD", loadLabels, frictionD, frictionErrD, wearD, wearErrD,
    { top: 27, xH: 58, xPad: 6, xTitle: "Applied load(N)", xTitlePad: 4,
      yMin: 0, yMax: 0.22, yStep: 0.025, yMajor: 0.05, yDigits: 2, y1Max: 1.6,
      yTitleX: 30, yTitleY: 185, y1TitleY: 188,
      legend: { x: 305, y: 42, len: 37, gap: 4.6, row: 20, size: 14, box: 16.7 } });
</script>
</body>
</html>
